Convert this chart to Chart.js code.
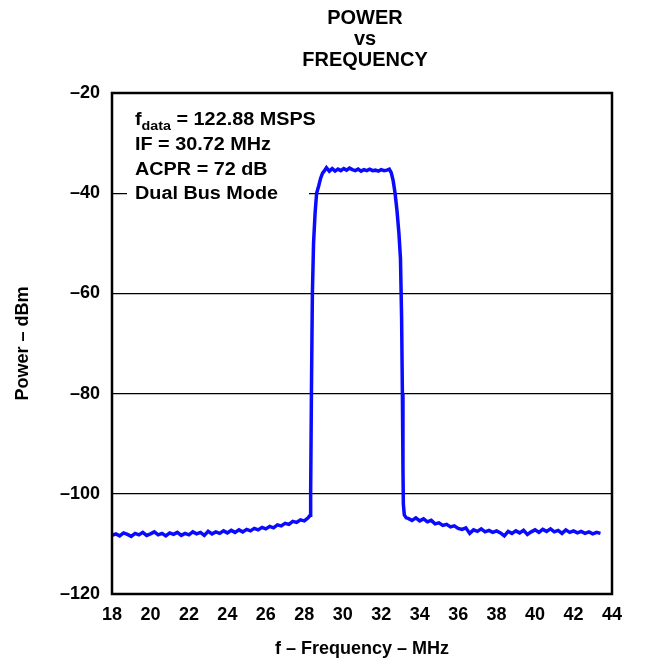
<!DOCTYPE html>
<html>
<head>
<meta charset="utf-8">
<script src="https://cdn.jsdelivr.net/npm/chart.js@4"></script>
<style>
  html, body { margin: 0; padding: 0; background: #fff; }
  #wrap { position: relative; width: 666px; height: 662px; }
</style>
</head>
<body>
<div id="wrap"><canvas id="c"></canvas></div>
<script>
// ---- data ----
const freqMHz = [
  18.0,18.2,18.4,18.6,18.8,19.0,19.2,19.4,19.6,19.8,
  20.0,20.2,20.4,20.6,20.8,21.0,21.2,21.4,21.6,21.8,
  22.0,22.2,22.4,22.6,22.8,23.0,23.2,23.4,23.6,23.8,
  24.0,24.2,24.4,24.6,24.8,25.0,25.2,25.4,25.6,25.8,
  26.0,26.2,26.4,26.6,26.8,27.0,27.2,27.4,27.6,27.8,
  28.0,28.2,28.3,28.33,28.37,28.42,28.48,28.56,28.64,28.75,
  28.85,28.95,29.05,29.15,29.3,29.45,29.6,29.75,29.9,30.05,
  30.2,30.35,30.5,30.65,30.8,30.95,31.1,31.25,31.4,31.55,
  31.7,31.85,32.0,32.15,32.3,32.42,32.52,32.62,32.72,32.82,
  32.92,33.0,33.06,33.1,33.13,33.15,33.2,33.3,
  33.4,33.6,33.8,34.0,34.2,34.4,34.6,34.8,35.0,35.2,
  35.4,35.6,35.8,36.0,36.2,36.4,36.6,36.8,37.0,37.2,
  37.4,37.6,37.8,38.0,38.2,38.4,38.6,38.8,39.0,39.2,
  39.4,39.6,39.8,40.0,40.2,40.4,40.6,40.8,41.0,41.2,
  41.4,41.6,41.8,42.0,42.2,42.4,42.6,42.8,43.0,43.2,43.4
];
const powerDBm = [
  -108.3,-108.0,-108.4,-107.8,-108.1,-108.5,-107.9,-108.2,-107.7,-108.3,
  -108.0,-107.6,-108.2,-107.9,-108.4,-107.8,-108.1,-107.7,-108.3,-107.9,
  -108.2,-107.6,-108.0,-107.7,-108.3,-107.5,-108.0,-107.6,-107.9,-107.4,
  -107.8,-107.3,-107.7,-107.2,-107.6,-107.1,-107.4,-106.9,-107.2,-106.7,
  -107.0,-106.5,-106.8,-106.2,-106.4,-105.9,-106.1,-105.5,-105.7,-105.2,
  -105.4,-104.8,-104.3,-100.0,-80.0,-60.0,-50.0,-44.0,-40.0,-38.5,
  -37.0,-36.0,-35.5,-34.9,-35.6,-35.1,-35.6,-35.2,-35.5,-35.1,
  -35.4,-35.0,-35.3,-35.5,-35.2,-35.6,-35.3,-35.5,-35.2,-35.5,
  -35.4,-35.6,-35.3,-35.5,-35.4,-35.2,-35.9,-37.5,-40.0,-43.5,
  -48.0,-53.0,-65.0,-80.0,-95.0,-102.0,-104.2,-104.8,
  -104.9,-105.3,-104.8,-105.4,-105.0,-105.6,-105.3,-106.0,-105.8,-106.3,
  -106.1,-106.6,-106.4,-106.9,-107.1,-106.8,-107.9,-107.2,-107.5,-107.0,
  -107.6,-107.3,-107.7,-107.4,-107.8,-108.4,-107.5,-107.9,-107.4,-107.8,
  -107.3,-108.1,-107.6,-107.2,-107.7,-107.1,-107.5,-107.0,-107.6,-107.3,
  -107.9,-107.2,-107.7,-107.4,-107.8,-107.5,-107.9,-107.6,-108.0,-107.7,-107.9
];
const xTickValues = [18,20,22,24,26,28,30,32,34,36,38,40,42,44];
const yTickValues = [-120,-100,-80,-60,-40,-20];
const titleLines = ['POWER', 'vs', 'FREQUENCY'];
const xAxisTitle = 'f \u2013 Frequency \u2013 MHz';
const yAxisTitle = 'Power \u2013 dBm';
const noteLines = [
  { main: 'f', sub: 'data', rest: ' = 122.88 MSPS' },
  { main: 'IF = 30.72 MHz' },
  { main: 'ACPR = 72 dB' },
  { main: 'Dual Bus Mode' }
];

// ---- chart ----
const FONT = '"Liberation Sans", Arial, Helvetica, sans-serif';
const fmt = v => (v < 0 ? '\u2013' + Math.abs(v) : String(v));

const annotationPlugin = {
  id: 'notes',
  beforeDatasetsDraw(chart) {
    const ctx = chart.ctx;
    const a = chart.chartArea;
    ctx.save();
    ctx.fillStyle = '#fff';
    ctx.fillRect(a.left + 15, a.top + 6, 182, 110);
    ctx.fillStyle = '#000';
    ctx.textBaseline = 'alphabetic';
    const x0 = a.left + 23;
    const baselines = [125, 150, 175, 199];
    noteLines.forEach((ln, i) => {
      ctx.save();
      ctx.translate(x0, baselines[i]);
      ctx.scale(1.06, 1);
      ctx.font = 'bold 18.7px ' + FONT;
      let x = 0;
      ctx.fillText(ln.main, x, 0);
      x += ctx.measureText(ln.main).width;
      if (ln.sub) {
        ctx.font = 'bold 13.5px ' + FONT;
        ctx.fillText(ln.sub, x, 5);
        x += ctx.measureText(ln.sub).width;
        ctx.font = 'bold 18.7px ' + FONT;
        ctx.fillText(ln.rest, x, 0);
      }
      ctx.restore();
    });
    ctx.restore();
  },
  afterDatasetsDraw(chart) {
    const ctx = chart.ctx;
    const a = chart.chartArea;
    ctx.save();
    ctx.strokeStyle = '#000';
    ctx.lineWidth = 2.5;
    ctx.strokeRect(a.left, a.top, a.right - a.left, a.bottom - a.top);
    ctx.restore();
  },
  afterDraw(chart) {
    // title, centred over the plot area
    const ctx = chart.ctx;
    const a = chart.chartArea;
    const cx = (a.left + a.right) / 2 + 3;
    const baselines = [24, 45, 66];
    ctx.save();
    ctx.fillStyle = '#000';
    ctx.textAlign = 'center';
    ctx.textBaseline = 'alphabetic';
    ctx.font = 'bold 20px ' + FONT;
    titleLines.forEach((t, i) => {
      ctx.save();
      ctx.translate(cx, baselines[i]);
      ctx.scale(1.0, 1.05);
      ctx.fillText(t, 0, 0);
      ctx.restore();
    });
    ctx.restore();
  }
};

new Chart(document.getElementById('c'), {
  type: 'line',
  data: {
    datasets: [{
      data: freqMHz.map((f, i) => ({ x: f, y: powerDBm[i] })),
      borderColor: '#0a0aff',
      borderWidth: 3.5,
      pointRadius: 0,
      tension: 0,
      fill: false
    }]
  },
  options: {
    responsive: true,
    maintainAspectRatio: false,
    animation: false,
    layout: { padding: { left: 0, right: 54, top: 93, bottom: 0 } },
    plugins: {
      legend: { display: false },
      tooltip: { enabled: false },
      title: { display: false }
    },
    scales: {
      x: {
        type: 'linear',
        min: 18, max: 44,
        afterBuildTicks: s => { s.ticks = xTickValues.map(v => ({ value: v })); },
        afterFit: s => { s.height = 68; },
        grid: { display: false, drawTicks: false },
        border: { display: false },
        ticks: {
          color: '#000', padding: 10, maxRotation: 0, autoSkip: false,
          font: { family: FONT, size: 18, weight: 'bold' },
          callback: v => fmt(v)
        },
        title: {
          display: true, text: xAxisTitle, color: '#000',
          font: { family: FONT, size: 18, weight: 'bold' },
          padding: { top: 4, bottom: 2 }
        }
      },
      y: {
        type: 'linear',
        min: -120, max: -20,
        afterBuildTicks: s => { s.ticks = yTickValues.map(v => ({ value: v })); },
        afterFit: s => { s.width = 112; },
        grid: {
          drawTicks: false, color: '#000', lineWidth: 1.2
        },
        border: { display: false },
        ticks: {
          color: '#000', padding: 12, autoSkip: false,
          font: { family: FONT, size: 18, weight: 'bold' },
          callback: v => fmt(v)
        },
        title: {
          display: true, text: yAxisTitle, color: '#000',
          font: { family: FONT, size: 18, weight: 'bold' },
          padding: { top: 12, bottom: 0 }
        }
      }
    }
  },
  plugins: [annotationPlugin]
});
</script>
</body>
</html>
